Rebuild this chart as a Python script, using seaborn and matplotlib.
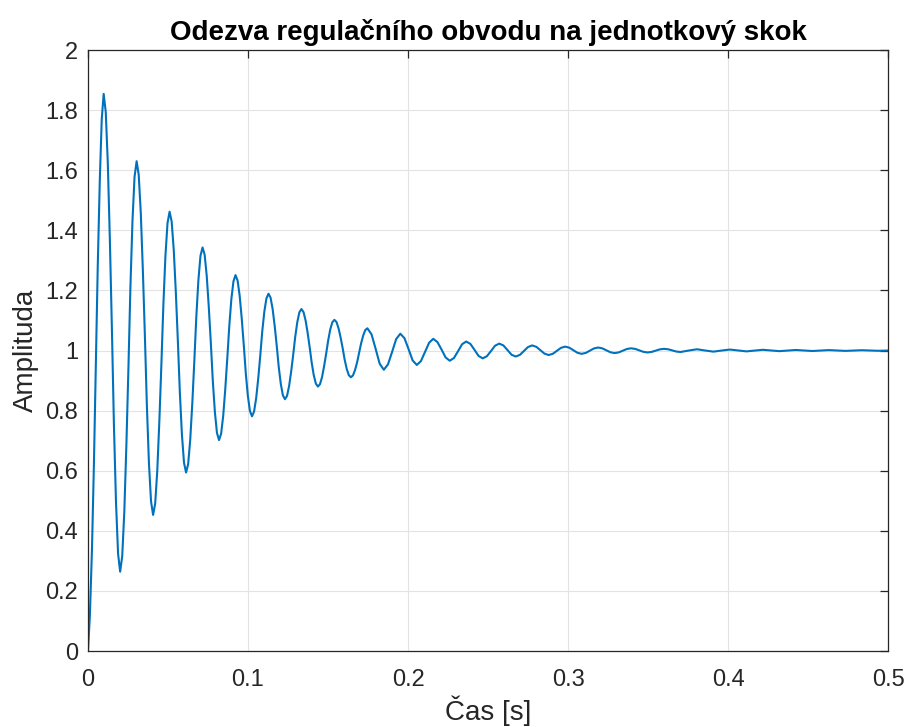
import numpy as np
import matplotlib
matplotlib.use("Agg")
import matplotlib.pyplot as plt
import seaborn as sns

cas = [
    0.0000, 0.0012, 0.0025, 0.0037, 0.0049, 0.0061, 0.0074, 0.0086,
    0.0098, 0.0111, 0.0124, 0.0137, 0.0150, 0.0162, 0.0175, 0.0188,
    0.0201, 0.0214, 0.0227, 0.0240, 0.0253, 0.0265, 0.0278, 0.0291,
    0.0304, 0.0317, 0.0330, 0.0343, 0.0356, 0.0368, 0.0381, 0.0394,
    0.0407, 0.0420, 0.0433, 0.0446, 0.0459, 0.0471, 0.0484, 0.0497,
    0.0510, 0.0523, 0.0536, 0.0549, 0.0562, 0.0574, 0.0587, 0.0600,
    0.0613, 0.0626, 0.0639, 0.0652, 0.0665, 0.0677, 0.0690, 0.0703,
    0.0716, 0.0729, 0.0742, 0.0755, 0.0768, 0.0780, 0.0793, 0.0806,
    0.0819, 0.0832, 0.0845, 0.0858, 0.0871, 0.0883, 0.0896, 0.0909,
    0.0922, 0.0935, 0.0948, 0.0961, 0.0974, 0.0986, 0.0999, 0.1012,
    0.1025, 0.1038, 0.1051, 0.1064, 0.1077, 0.1089, 0.1102, 0.1115,
    0.1128, 0.1141, 0.1154, 0.1167, 0.1180, 0.1192, 0.1205, 0.1218,
    0.1231, 0.1244, 0.1257, 0.1270, 0.1283, 0.1295, 0.1308, 0.1321,
    0.1334, 0.1347, 0.1360, 0.1373, 0.1386, 0.1398, 0.1411, 0.1424,
    0.1437, 0.1450, 0.1463, 0.1476, 0.1489, 0.1501, 0.1514, 0.1527,
    0.1540, 0.1553, 0.1566, 0.1579, 0.1592, 0.1604, 0.1617, 0.1630,
    0.1643, 0.1656, 0.1669, 0.1682, 0.1695, 0.1707, 0.1720, 0.1733,
    0.1746, 0.1772, 0.1798, 0.1823,
    0.1849, 0.1875, 0.1901, 0.1926,
    0.1952, 0.1978, 0.2004, 0.2029,
    0.2055, 0.2081, 0.2107, 0.2132,
    0.2158, 0.2184, 0.2210, 0.2235,
    0.2261, 0.2287, 0.2313, 0.2338,
    0.2364, 0.2390, 0.2416, 0.2441,
    0.2467, 0.2493, 0.2519, 0.2544,
    0.2570, 0.2596, 0.2622, 0.2647,
    0.2673, 0.2699, 0.2725, 0.2750,
    0.2776, 0.2802, 0.2828, 0.2853,
    0.2879, 0.2905, 0.2931, 0.2956,
    0.2982, 0.3008, 0.3034, 0.3059,
    0.3085, 0.3111, 0.3137, 0.3162,
    0.3188, 0.3214, 0.3240, 0.3265,
    0.3291, 0.3317, 0.3343, 0.3368,
    0.3394, 0.3420, 0.3446, 0.3471,
    0.3497, 0.3523, 0.3549, 0.3574,
    0.3600, 0.3626, 0.3652, 0.3677,
    0.3703, 0.3755, 0.3806, 0.3858, 0.3909, 0.3961, 0.4012, 0.4064,
    0.4115, 0.4167, 0.4218, 0.4270, 0.4321, 0.4373, 0.4424, 0.4476,
    0.4527, 0.4579, 0.4630, 0.4682, 0.4733, 0.4785, 0.4836, 0.4888,
    0.4939, 0.5000,
]
amplituda = [
    0.000, 0.120, 0.340, 0.620, 0.950, 1.280, 1.570, 1.770,
    1.854, 1.794, 1.622, 1.363, 1.059, 0.755, 0.496, 0.324,
    0.264, 0.316, 0.463, 0.686, 0.947, 1.208, 1.431, 1.578,
    1.630, 1.585, 1.458, 1.266, 1.042, 0.817, 0.625, 0.498,
    0.453, 0.491, 0.600, 0.765, 0.958, 1.150, 1.315, 1.424,
    1.462, 1.429, 1.335, 1.194, 1.028, 0.862, 0.721, 0.627,
    0.594, 0.622, 0.703, 0.825, 0.969, 1.112, 1.234, 1.315,
    1.343, 1.319, 1.249, 1.145, 1.023, 0.900, 0.796, 0.726,
    0.702, 0.723, 0.782, 0.872, 0.977, 1.081, 1.171, 1.230,
    1.251, 1.233, 1.182, 1.106, 1.016, 0.926, 0.850, 0.799,
    0.781, 0.797, 0.841, 0.907, 0.985, 1.063, 1.129, 1.173,
    1.189, 1.176, 1.138, 1.081, 1.014, 0.946, 0.889, 0.851,
    0.838, 0.849, 0.882, 0.931, 0.988, 1.045, 1.094, 1.127,
    1.138, 1.128, 1.100, 1.058, 1.009, 0.960, 0.918, 0.890,
    0.880, 0.888, 0.912, 0.949, 0.991, 1.033, 1.070, 1.094,
    1.102, 1.095, 1.074, 1.043, 1.007, 0.970, 0.939, 0.918,
    0.911, 0.917, 0.935, 0.961, 0.993, 1.024, 1.050, 1.068,
    1.074, 1.054, 1.005, 0.956,
    0.936, 0.954, 0.996, 1.038,
    1.056, 1.041, 1.004, 0.967,
    0.952, 0.965, 0.996, 1.026,
    1.039, 1.028, 1.003, 0.977,
    0.966, 0.975, 0.998, 1.021,
    1.030, 1.022, 1.002, 0.982,
    0.974, 0.981, 0.9985, 1.016,
    1.023, 1.017, 1.0015, 0.986,
    0.980, 0.9854, 0.9985, 1.0116,
    1.017, 1.0123, 1.001, 0.9897,
    0.985, 0.9891, 0.999, 1.0089,
    1.013, 1.0095, 1.001, 0.9925,
    0.989, 0.9921, 0.9995, 1.0069,
    1.010, 1.0073, 1.0008, 0.9942,
    0.9915, 0.9938, 0.9995, 1.0051,
    1.0074, 1.0054, 1.0005, 0.9956,
    0.9936, 0.9954, 0.9996, 1.0039,
    1.0056, 1.0041, 1.0004, 0.9966,
    0.9951, 1.000, 1.0042, 1.000, 0.9963, 1.000, 1.0032, 1.000,
    0.9972, 1.000, 1.0024, 1.000, 0.9979, 1.000, 1.0018, 1.000,
    0.9984, 1.000, 1.0014, 1.000, 0.9988, 1.000, 1.0010, 1.000,
    0.9991, 1.000,
]
xticks = [0, 0.1, 0.2, 0.3, 0.4, 0.5]
xtick_labels = ["0", "0.1", "0.2", "0.3", "0.4", "0.5"]
yticks = [0, 0.2, 0.4, 0.6, 0.8, 1, 1.2, 1.4, 1.6, 1.8, 2]
ytick_labels = ["0", "0.2", "0.4", "0.6", "0.8", "1", "1.2", "1.4", "1.6", "1.8", "2"]

assert len(cas) == len(amplituda)

sns.set_style("white")
plt.rcParams['font.family'] = ['Liberation Sans', 'DejaVu Sans']

fig = plt.figure(figsize=(9.08, 7.27), dpi=100)
ax = fig.add_axes([0.0969, 0.1045, 0.8811, 0.8267])

sns.lineplot(x=cas, y=amplituda, ax=ax, color="#0072BD", linewidth=1.5)

ax.set_xlim(0, 0.5)
ax.set_ylim(0, 2)
ax.set_xticks(xticks)
ax.set_xticklabels(xtick_labels)
ax.set_yticks(yticks)
ax.set_yticklabels(ytick_labels)
ax.grid(True, color="#e3e3e3", linewidth=0.8)
ax.set_axisbelow(True)

for s in ax.spines.values():
    s.set_color("#262626")
    s.set_linewidth(0.9)
ax.tick_params(direction="in", length=6, width=0.9, colors="#262626",
               top=True, right=True, labelsize=17)
ax.tick_params(axis="x", pad=13)
ax.tick_params(axis="y", pad=7)

ax.set_xlabel("Čas [s]", fontsize=20, color="#262626", labelpad=3)
ax.set_ylabel("Amplituda", fontsize=20, color="#262626", labelpad=5)
ax.set_title("Odezva regulačního obvodu na jednotkový skok", fontsize=20,
             fontweight="bold", color="black", pad=7)

fig.savefig("out.png", dpi=100)
